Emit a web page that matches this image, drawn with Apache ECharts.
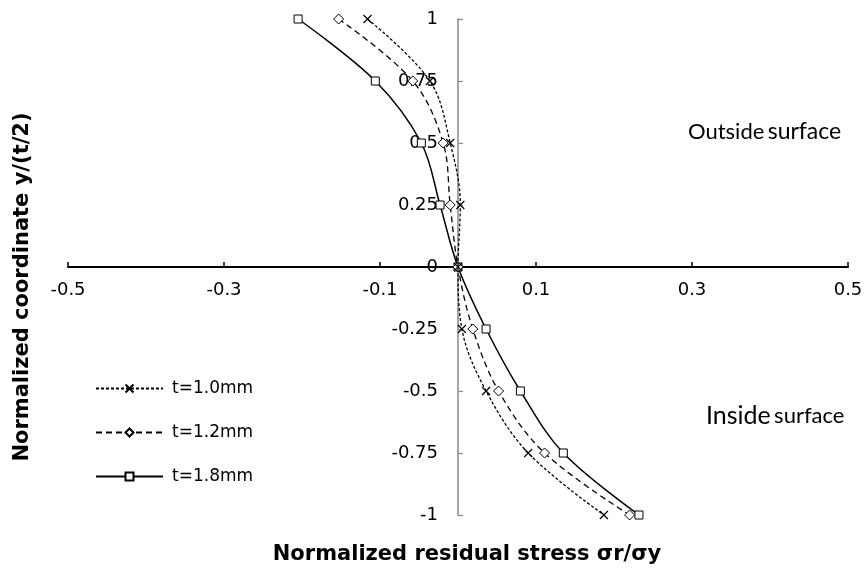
<!DOCTYPE html>
<html>
<head>
<meta charset="utf-8">
<script src="https://cdn.jsdelivr.net/npm/echarts@6/dist/echarts.min.js"></script>
<style>
  html, body { margin: 0; padding: 0; background: #fff; }
  #chart { width: 868px; height: 573px; }
</style>
</head>
<body>
<div id="chart"></div>
<script>
// Normalized through-thickness coordinate y/(t/2), outer to inner surface
const coordY = [1, 0.75, 0.5, 0.25, 0, -0.25, -0.5, -0.75, -1];

// Normalized residual stress σr/σy for each sheet thickness
const stressT10 = [-0.116, -0.036, -0.010, 0.003, 0, 0.005, 0.036, 0.090, 0.187];
const stressT12 = [-0.153, -0.058, -0.019, -0.010, 0, 0.019, 0.052, 0.111, 0.220];
const stressT18 = [-0.205, -0.106, -0.047, -0.023, 0, 0.036, 0.080, 0.135, 0.232];

const seriesNames = ['t=1.0mm', 't=1.2mm', 't=1.8mm'];

const xTitle = 'Normalized residual stress σr/σy';
const yTitle = 'Normalized coordinate y/(t/2)';

const pair = (xs) => xs.map((x, i) => [x, coordY[i]]);

const FONT = '"DejaVu Sans", "Liberation Sans", Arial, sans-serif';
const NOTE_FONT = 'Lato, "Open Sans", sans-serif';
const crossPath = 'path://M0,0L10,10M10,0L0,10';

// Plot area geometry; the axes cross at the origin in the middle of it
const GRID = { left: 68, top: 19, width: 780, height: 496 };
const X_RANGE = [-0.5, 0.5];
const Y_RANGE = [-1, 1];
const yAxisShift = GRID.width * (0 - X_RANGE[0]) / (X_RANGE[1] - X_RANGE[0]);
const xAxisShift = GRID.height * (0 - Y_RANGE[0]) / (Y_RANGE[1] - Y_RANGE[0]);

const chart = echarts.init(document.getElementById('chart'), null, { renderer: 'canvas' });

chart.setOption({
  animation: false,
  backgroundColor: '#ffffff',
  grid: { left: GRID.left, top: GRID.top, width: GRID.width, height: GRID.height, containLabel: false },
  xAxis: {
    type: 'value',
    position: 'bottom',
    offset: -xAxisShift,
    min: X_RANGE[0],
    max: X_RANGE[1],
    interval: 0.2,
    axisLine: { onZero: false, lineStyle: { color: '#000', width: 2 } },
    axisTick: { show: true, inside: true, length: 5, lineStyle: { color: '#000', width: 1.5 } },
    axisLabel: {
      margin: 14,
      fontFamily: FONT,
      fontSize: 18,
      color: '#000',
      formatter: (v) => String(Math.round(v * 10) / 10)
    },
    splitLine: { show: false }
  },
  yAxis: {
    type: 'value',
    position: 'left',
    offset: -yAxisShift,
    min: Y_RANGE[0],
    max: Y_RANGE[1],
    interval: 0.25,
    axisLine: { onZero: false, lineStyle: { color: '#888', width: 1.5 } },
    axisTick: { show: true, inside: true, length: 5, lineStyle: { color: '#888', width: 1.2 } },
    axisLabel: {
      margin: 20,
      fontFamily: FONT,
      fontSize: 18,
      color: '#000',
      formatter: (v) => String(Math.round(v * 100) / 100)
    },
    splitLine: { show: false }
  },
  legend: {
    orient: 'vertical',
    left: 95,
    top: 380,
    padding: 0,
    itemWidth: 67,
    itemHeight: 10,
    itemGap: 27,
    textStyle: { fontFamily: FONT, fontSize: 17, color: '#000', padding: [0, 0, 0, 4] },
    data: seriesNames
  },
  series: [
    {
      name: seriesNames[0],
      type: 'line',
      data: pair(stressT10),
      smooth: 0.35,
      symbol: crossPath,
      symbolSize: 8,
      itemStyle: { color: '#000', borderColor: '#000', borderWidth: 1.2 },
      lineStyle: { color: '#000', width: 1.3, type: [3, 2] },
      z: 4
    },
    {
      name: seriesNames[1],
      type: 'line',
      data: pair(stressT12),
      smooth: 0.35,
      symbol: 'diamond',
      symbolSize: 10,
      itemStyle: { color: '#fff', borderColor: '#000', borderWidth: 1 },
      lineStyle: { color: '#000', width: 1.3, type: [6, 4] },
      z: 3
    },
    {
      name: seriesNames[2],
      type: 'line',
      data: pair(stressT18),
      smooth: 0.35,
      symbol: 'rect',
      symbolSize: 8,
      itemStyle: { color: '#fff', borderColor: '#000', borderWidth: 1 },
      lineStyle: { color: '#000', width: 1.5 },
      z: 2
    }
  ],
  graphic: [
    {
      type: 'text',
      x: 467,
      y: 555,
      style: { text: xTitle, font: 'bold 21px ' + FONT, fill: '#000', align: 'center', verticalAlign: 'middle' }
    },
    {
      type: 'text',
      x: 23,
      y: 287,
      rotation: Math.PI / 2,
      style: { text: yTitle, font: 'bold 21px ' + FONT, fill: '#000', align: 'center', verticalAlign: 'middle' }
    },
    {
      type: 'text',
      x: 688,
      y: 132,
      style: {
        text: '{a|Outside} {b|surface}',
        verticalAlign: 'middle',
        rich: {
          a: { fontFamily: NOTE_FONT, fontSize: 22, color: '#000' },
          b: { fontFamily: NOTE_FONT, fontSize: 23, color: '#000' }
        }
      }
    },
    {
      type: 'text',
      x: 706,
      y: 416,
      style: {
        text: '{a|Inside} {b|surface}',
        verticalAlign: 'middle',
        rich: {
          a: { fontFamily: NOTE_FONT, fontSize: 25, color: '#000' },
          b: { fontFamily: NOTE_FONT, fontSize: 22, color: '#000' }
        }
      }
    }
  ]
});
</script>
</body>
</html>
